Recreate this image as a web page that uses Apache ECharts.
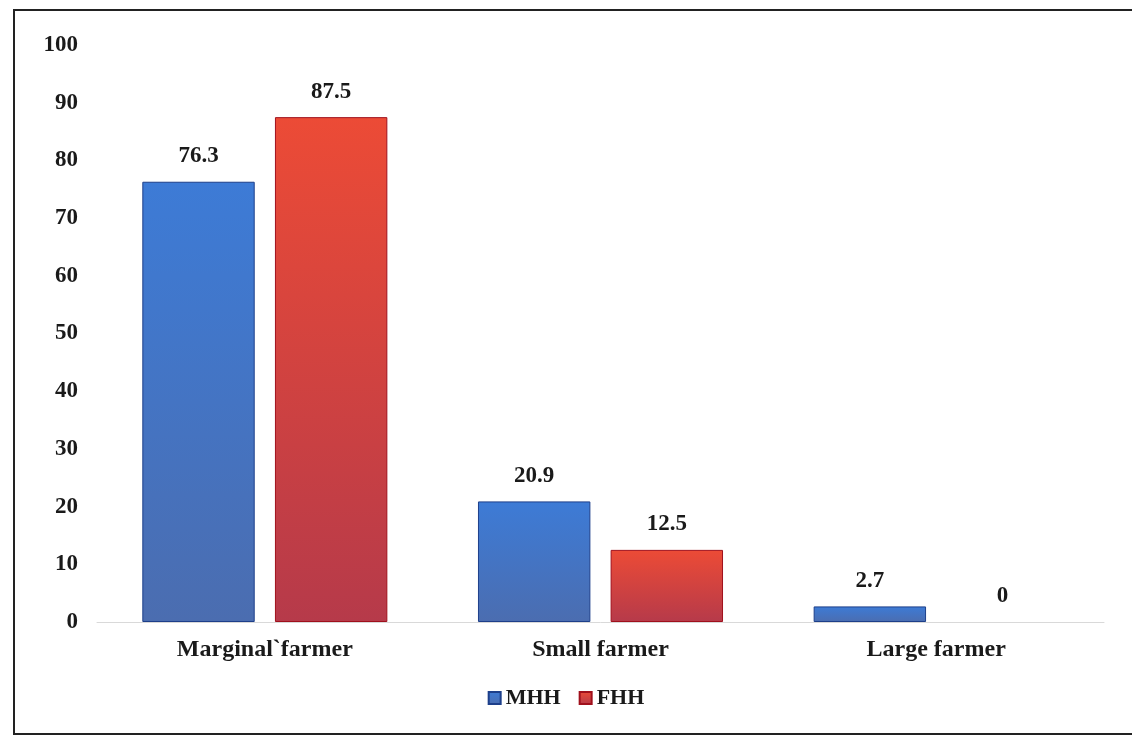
<!DOCTYPE html>
<html lang="en">
<head>
	<meta charset="UTF-8">
	<title>Farmer categories</title>
	<style type="text/css">
		html, body { margin: 0; padding: 0; background: #fff; }
		#a { width: 1132px; height: 754px; }
	</style>
</head>
<body>
	<div id="a"></div>
	<script type="text/javascript" src="https://cdn.jsdelivr.net/npm/echarts@6/dist/echarts.min.js"></script>
	<script type="text/javascript">
		// data
		var categories = ['Marginal`farmer', 'Small farmer', 'Large farmer'];
		var mhh = [76.3, 20.9, 2.7];
		var fhh = [87.5, 12.5, 0];
		var seriesNames = ['MHH', 'FHH'];

		var font = '"Liberation Serif", "DejaVu Serif", serif';
		var myChart = echarts.init(document.getElementById('a'));

		function grad(top, bottom) {
			return new echarts.graphic.LinearGradient(0, 0, 0, 1, [
				{ offset: 0, color: top },
				{ offset: 1, color: bottom }
			]);
		}

		// a zero bar should not leave a border line on the axis (label stays)
		function items(arr) {
			return arr.map(function (v) {
				return v === 0 ? { value: v, itemStyle: { borderWidth: 0, color: 'rgba(0,0,0,0)' } } : v;
			});
		}

		var labelStyle = {
			show: true,
			position: 'top',
			distance: 14,
			fontFamily: font,
			fontWeight: 'bold',
			fontSize: 23,
			color: '#1a1a1a'
		};

		var option = {
			backgroundColor: '#fff',
			graphic: [{
				type: 'rect',
				shape: { x: 14, y: 10, width: 1140, height: 724 },
				style: { fill: 'none', stroke: '#222', lineWidth: 2 },
				silent: true
			}],
			grid: { left: 97, right: 28, top: 45, bottom: 132 },
			legend: {
				data: seriesNames,
				bottom: 40,
				left: 'center',
				itemWidth: 12,
				itemHeight: 12,
				itemGap: 18,
				icon: 'rect',
				textStyle: { fontFamily: font, fontWeight: 'bold', fontSize: 22, color: '#1a1a1a' }
			},
			xAxis: {
				type: 'category',
				data: categories,
				axisLine: { show: true, lineStyle: { color: '#d9d9d9', width: 1 } },
				axisTick: { show: false },
				axisLabel: {
					margin: 16,
					fontFamily: font,
					fontWeight: 'bold',
					fontSize: 24,
					color: '#1a1a1a'
				}
			},
			yAxis: {
				type: 'value',
				min: 0,
				max: 100,
				interval: 10,
				splitLine: { show: false },
				axisLine: { show: false },
				axisTick: { show: false },
				axisLabel: {
					margin: 19,
					fontFamily: font,
					fontWeight: 'bold',
					fontSize: 23,
					color: '#1a1a1a'
				}
			},
			series: [
				{
					name: 'MHH',
					type: 'bar',
					data: items(mhh),
					barGap: '18%',
					barCategoryGap: '27%',
					itemStyle: {
						color: grad('#3d7bd6', '#4b6db0'),
						borderColor: '#1d3f8a',
						borderWidth: 1
					},
					label: labelStyle
				},
				{
					name: 'FHH',
					type: 'bar',
					data: items(fhh),
					itemStyle: {
						color: grad('#ec4b36', '#b63a4a'),
						borderColor: '#a0101c',
						borderWidth: 1
					},
					label: labelStyle
				}
			]
		};
		myChart.setOption(option);
	</script>
</body>
</html>
